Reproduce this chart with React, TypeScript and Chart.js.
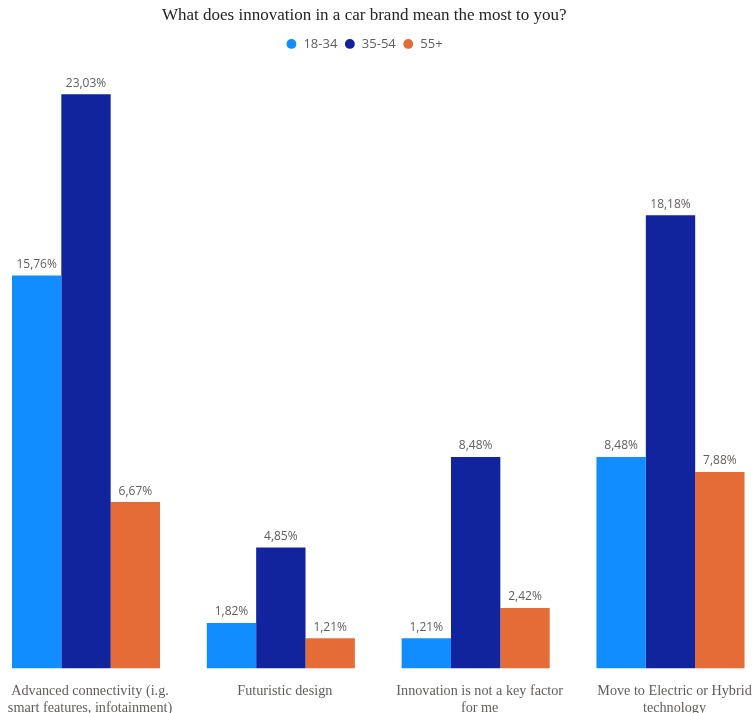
import React, { useEffect, useRef } from "react";
import { Chart, registerables } from "chart.js";

Chart.register(...registerables);

const TITLE = "What does innovation in a car brand mean the most to you?";
const CATEGORIES: string[][] = [
  ["Advanced connectivity (i.g.", "smart features, infotainment)"],
  ["Futuristic design"],
  ["Innovation is not a key factor", "for me"],
  ["Move to Electric or Hybrid", "technology"],
];
const SERIES_NAMES = ["18-34", "35-54", "55+"];
const SERIES_COLORS = ["#118DFF", "#12239E", "#E66C37"];
const VALUES_18_34 = [15.76, 1.82, 1.21, 8.48];
const VALUES_35_54 = [23.03, 4.85, 8.48, 18.18];
const VALUES_55_PLUS = [6.67, 1.21, 2.42, 7.88];
const Y_MAX = 24.39;

const fmt = (v: number) => v.toFixed(2).replace(".", ",") + "%";

const dataLabelPlugin = {
  id: "dataLabels",
  afterDatasetsDraw(chart: any) {
    const ctx = chart.ctx;
    ctx.save();
    ctx.font = "12px 'Open Sans'";
    ctx.fillStyle = "#605E5C";
    ctx.textAlign = "center";
    ctx.textBaseline = "bottom";
    chart.data.datasets.forEach((ds: any, di: number) => {
      const meta = chart.getDatasetMeta(di);
      meta.data.forEach((el: any, i: number) => {
        ctx.fillText(fmt(ds.data[i]), el.x, el.y - 5);
      });
    });
    ctx.restore();
  },
};

// shift the title and legend block slightly left, as in the reference
const headerShiftPlugin = {
  id: "headerShift",
  afterLayout(chart: any) {
    const shift = -14;
    [chart.titleBlock, chart.legend].forEach((b: any) => {
      if (b) {
        b.left += shift;
        b.right += shift;
      }
    });
  },
};

export default function App() {
  const ref = useRef<HTMLCanvasElement>(null);
  useEffect(() => {
    document.body.style.margin = "0";
    const seriesValues = [VALUES_18_34, VALUES_35_54, VALUES_55_PLUS];
    const chart = new Chart(ref.current!, {
      type: "bar",
      data: {
        labels: CATEGORIES,
        datasets: SERIES_NAMES.map((name, i) => ({
          label: name,
          data: seriesValues[i],
          backgroundColor: SERIES_COLORS[i],
          borderWidth: 0,
          categoryPercentage: 0.76,
          barPercentage: 1,
          clip: false as any,
        })),
      },
      options: {
        responsive: false,
        animation: false,
        devicePixelRatio: 1,
        layout: { padding: { left: 86, right: 82.5, top: 5, bottom: -18 } },
        plugins: {
          title: {
            display: true,
            text: TITLE,
            color: "#252423",
            font: { family: "'Liberation Serif'", size: 17, weight: "normal" },
            padding: { top: 0, bottom: 5 },
          },
          legend: {
            display: true,
            position: "top",
            labels: {
              usePointStyle: true,
              pointStyle: "circle",
              boxWidth: 11,
              boxHeight: 7,
              padding: 7,
              color: "#605E5C",
              font: { family: "'Open Sans'", size: 13 },
            },
          },
          tooltip: { enabled: false },
        },
        scales: {
          x: {
            offset: false,
            grid: { display: false, drawTicks: false },
            border: { display: false },
            afterFit: (scale: any) => {
              scale.paddingLeft = 0;
              scale.paddingRight = 0;
            },
            ticks: {
              color: "#605E5C",
              font: { family: "'Liberation Serif'", size: 14.2, lineHeight: 1.15 },
              padding: 15,
              labelOffset: 4,
              maxRotation: 0,
              autoSkip: false,
            },
          },
          y: {
            display: false,
            min: 0,
            max: Y_MAX,
          },
        },
      },
      plugins: [dataLabelPlugin, headerShiftPlugin],
    });
    return () => chart.destroy();
  }, []);
  return <canvas ref={ref} width={753} height={713} style={{ display: "block" }} />;
}
